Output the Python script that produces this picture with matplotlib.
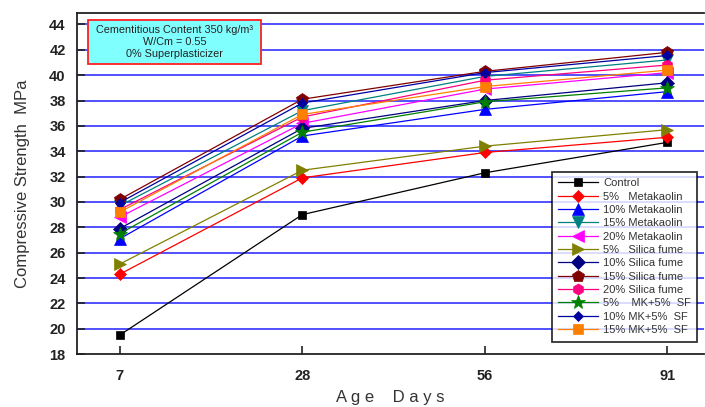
import matplotlib
matplotlib.use("Agg")
import matplotlib.pyplot as plt
from matplotlib.patches import Rectangle

plt.rcParams['font.family'] = ['Liberation Sans', 'DejaVu Sans']

ages = ["7", "28", "56", "91"]

control = [19.5, 29.0, 32.3, 34.7]
mk5 = [24.3, 31.9, 33.9, 35.1]
mk10 = [27.1, 35.2, 37.3, 38.7]
mk15 = [29.7, 37.2, 39.9, 41.2]
mk20 = [28.8, 36.2, 38.9, 40.2]
sf5 = [25.1, 32.5, 34.4, 35.7]
sf10 = [27.9, 35.8, 38.0, 39.4]
sf15 = [30.2, 38.1, 40.3, 41.8]
sf20 = [29.4, 36.7, 39.6, 40.8]
mk5sf5 = [27.5, 35.5, 37.9, 39.0]
mk10sf5 = [29.95, 37.8, 40.2, 41.55]
mk15sf5 = [29.2, 36.9, 39.1, 40.4]

labels = ["Control", "5%   Metakaolin", "10% Metakaolin", "15% Metakaolin",
          "20% Metakaolin", "5%   Silica fume", "10% Silica fume",
          "15% Silica fume", "20% Silica fume", "5%    MK+5%  SF",
          "10% MK+5%  SF", "15% MK+5%  SF"]

series = [control, mk5, mk10, mk15, mk20, sf5, sf10, sf15, sf20, mk5sf5, mk10sf5, mk15sf5]
colors = ["#000000", "#FF0000", "#0000FF", "#008080", "#FF00FF", "#808000",
          "#000080", "#800000", "#FF0080", "#008000", "#0000A0", "#FF8000"]
markers = ["s", "D", "^", "v", "<", ">", "D", "p", "h", "*", "D", "s"]
msizes = [6, 6, 8, 8, 8, 8, 7, 9, 8, 10, 5, 7]

fig = plt.figure(figsize=(7.05, 4.07), dpi=100)
ax = fig.add_axes([0.109, 0.130, 0.8895, 0.838])

x = list(range(len(ages)))
for vals, lab, c, m, ms in zip(series, labels, colors, markers, msizes):
    ax.plot(x, vals, color=c, marker=m, markersize=ms, linewidth=0.9, label=lab,
            markeredgewidth=0.5)

ax.set_xlim(-0.235, 3.2)
ax.set_ylim(18, 44.9)
ax.set_xticks(x)
ax.set_xticklabels(ages)
ax.set_yticks(range(18, 45, 2))
for t in ax.get_yticklabels() + ax.get_xticklabels():
    t.set_fontweight('bold')
    t.set_fontsize(10.5)
    t.set_color('#222222')

for gy in range(20, 45, 2):
    ax.axhline(gy, color='#3333FF', linewidth=1.2, zorder=0)

ax.tick_params(axis='both', direction='in', length=6, width=1.2, color='#222222')
ax.tick_params(axis='x', pad=11)
ax.tick_params(axis='y', pad=8)
ax.spines['right'].set_visible(False)
for s in ['left', 'bottom', 'top']:
    ax.spines[s].set_linewidth(1.3)
    ax.spines[s].set_color('#222222')

ax.set_ylabel("Compressive Strength  MPa", fontsize=12, color='#333333', labelpad=14)
ax.set_xlabel("A g e    D a y s", fontsize=12, color='#333333', labelpad=5)

leg = ax.legend(loc='lower right', bbox_to_anchor=(0.9985, 0.02), fontsize=8,
                frameon=True, fancybox=False, edgecolor='black', borderpad=0.6,
                handlelength=3.6, labelspacing=0.3, handletextpad=0.4)
leg.get_frame().set_linewidth(1.3)
for t in leg.get_texts():
    t.set_color('#333333')

rect = Rectangle((0.0175, 0.85), 0.276, 0.129, transform=ax.transAxes,
                 facecolor='#80FFFF', edgecolor='#FF2020', linewidth=1.3, zorder=5)
ax.add_patch(rect)
ax.text(0.1555, 0.914, "Cementitious Content 350 kg/m³\nW/Cm = 0.55\n0% Superplasticizer",
        transform=ax.transAxes, ha='center', va='center', fontsize=7.8,
        color='#222222', linespacing=1.25, zorder=6)

fig.savefig("out.png", dpi=100)
